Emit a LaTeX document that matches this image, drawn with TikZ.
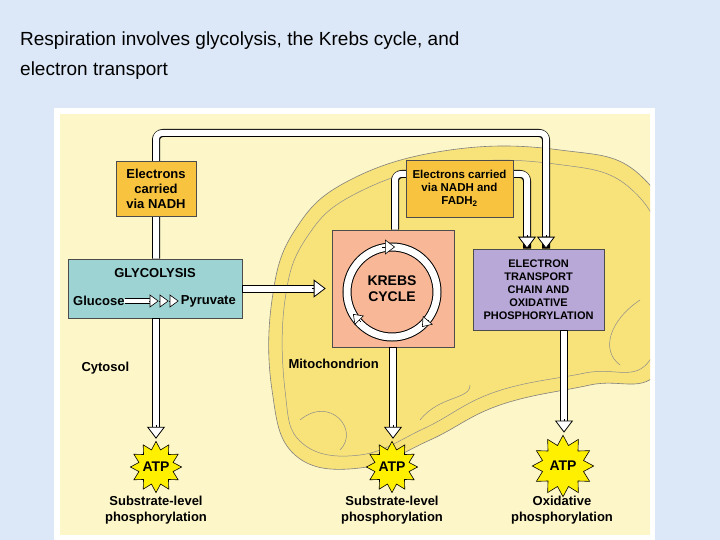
\documentclass[tikz,border=0pt]{standalone}
\usepackage{fontspec}
\setmainfont{Liberation Sans}
\usetikzlibrary{arrows.meta,shapes.geometric}
\definecolor{bgblue}{HTML}{DCE8F8}
\definecolor{cream}{HTML}{FDF6C8}
\definecolor{mito}{HTML}{F8E27A}
\definecolor{orangebox}{HTML}{F8C440}
\definecolor{tealbox}{HTML}{9ED3D3}
\definecolor{salmon}{HTML}{F8B898}
\definecolor{lav}{HTML}{B8A8D8}
\definecolor{atpy}{HTML}{FFF000}
\tikzset{
  box/.style={draw=black!70, line width=0.6pt, font=\bfseries\fontsize{13}{15}\selectfont, align=center, inner sep=0pt},
  hollowout/.style={line width=8pt, black, rounded corners=7pt},
  hollowin/.style={line width=6pt, white, rounded corners=6pt},
  tipped/.style={-{Triangle[length=12pt,width=18pt,line width=0.8pt,fill=white]}},
  atp/.style={star, star points=12, star point ratio=1.45, fill=atpy, draw=black, line width=0.6pt, font=\bfseries\fontsize{14}{15}\selectfont, inner sep=-1pt},
  lbl/.style={font=\bfseries\fontsize{13}{15.5}\selectfont, align=center},
}
\begin{document}
\begin{tikzpicture}[x=1pt,y=-1pt]
\useasboundingbox (0,0) rectangle (720,540);
\fill[bgblue] (0,0) rectangle (720,540);
\node[anchor=north west, align=left, font=\fontsize{19}{30}\selectfont, inner sep=0pt] (title) at (20,32) {Respiration involves glycolysis, the Krebs cycle, and\\electron transport};
\fill[white] (54,108) rectangle (655,540);
\fill[cream] (60,114) rectangle (650,535);
% mitochondrion
\begin{scope}
\clip (60,114) rectangle (650,535);
\draw[fill=mito, draw=black!50, line width=0.6pt] plot[smooth cycle, tension=0.7] coordinates {(272,300) (295,230) (350,180) (450,150) (560,150) (640,175) (680,260) (660,370) (590,385) (500,405) (430,440) (360,468) (295,455) (272,390)};
\draw[draw=black!45, line width=0.5pt] plot[smooth cycle, tension=0.7] coordinates {(285,300) (307,237) (357,193) (450,164) (555,164) (630,188) (665,260) (650,360) (585,373) (495,392) (425,428) (360,455) (302,443) (285,390)};
\draw[black!45, line width=0.5pt] (300,420) .. controls (330,395) and (360,430) .. (340,450);
\draw[black!45, line width=0.5pt] (640,300) .. controls (610,320) and (600,350) .. (620,365);
\draw[black!45, line width=0.5pt] (420,420) .. controls (440,395) and (470,400) .. (470,385);
\end{scope}
% boxes
\node[box, fill=tealbox, minimum width=174pt, minimum height=59pt] (glyc) at (155,288.5) {};
\node[box, fill=salmon, minimum width=122pt, minimum height=117pt] (krebs) at (393,288.5) {};
\node[box, fill=lav, minimum width=131pt, minimum height=81pt, font=\bfseries\fontsize{11}{13}\selectfont] (etc) at (538.5,289.5) {ELECTRON\\TRANSPORT\\CHAIN AND\\OXIDATIVE\\PHOSPHORYLATION};
% ATP
\node[atp] (atp1) at (156,467) {ATP};
\node[atp] (atp2) at (392,467) {ATP};
\node[atp, inner sep=1.5pt] (atp3) at (563,466) {ATP};
\node[lbl] (l1) at (156,510) {Substrate-level\\phosphorylation};
\node[lbl] (l2) at (392,510) {Substrate-level\\phosphorylation};
\node[lbl] (l3) at (562,510) {Oxidative\\phosphorylation};
% coordinates for connectors
\coordinate (c1) at (156,133); \coordinate (c2) at (546,133);
\coordinate (c3) at (395,174); \coordinate (c4) at (527,174);
\draw[hollowout] (glyc.north -| c1) -- (c1) -- (c2) -- (c2 |- etc.north);
\draw[hollowin] (glyc.north -| c1) -- (c1) -- (c2) -- ([yshift=12pt]c2 |- etc.north);
\draw[tipped, line width=0pt] ([yshift=13pt]c2 |- etc.north) -- (c2 |- etc.north);
\draw[hollowout] (krebs.north -| c3) -- (c3) -- (c4) -- (c4 |- etc.north);
\draw[hollowin] (krebs.north -| c3) -- (c3) -- (c4) -- ([yshift=12pt]c4 |- etc.north);
\draw[tipped, line width=0pt] ([yshift=13pt]c4 |- etc.north) -- (c4 |- etc.north);
% boxes on top of loops
\node[box, fill=orangebox, minimum width=80pt, minimum height=55pt] (nadh1) at (156,189) {Electrons\\carried\\via NADH};
\node[box, fill=orangebox, minimum width=107pt, minimum height=57pt, font=\bfseries\fontsize{11.5}{13}\selectfont] (nadh2) at (459.5,188.5) {Electrons carried\\via NADH and\\FADH\textsubscript{2}};
% straight arrows
\foreach \s/\t/\xx in {glyc/atp1/156, krebs/atp2/393, etc/atp3/564}{
  \draw[line width=8pt] (\xx,0 |- \s.south) -- ([yshift=14pt]\xx,0 |- \t.north);
  \draw[line width=6pt, white] ([yshift=-1pt]\xx,0 |- \s.south) -- ([yshift=14pt]\xx,0 |- \t.north);
  \draw[tipped, line width=0pt] ([yshift=15pt]\xx,0 |- \t.north) -- ([yshift=2pt]\xx,0 |- \t.north);
}
\draw[line width=8pt] (glyc.east) -- ([xshift=-18pt]krebs.west |- glyc.east);
\draw[line width=6pt, white] ([xshift=1pt]glyc.east) -- ([xshift=-18pt]krebs.west |- glyc.east);
\draw[tipped, line width=0pt] ([xshift=-19pt]krebs.west |- glyc.east) -- ([xshift=-6pt]krebs.west |- glyc.east);
% glycolysis text
\node[font=\bfseries\fontsize{13}{15}\selectfont] (gt) at (155,273) {GLYCOLYSIS};
\node[font=\bfseries\fontsize{13}{15}\selectfont, anchor=west, inner sep=0pt] (glu) at (73,301) {Glucose};
\node[font=\bfseries\fontsize{13}{15}\selectfont, anchor=east, inner sep=0pt] (pyr) at (236,301) {Pyruvate};
\draw[line width=6pt] (glu.east) -- ([xshift=-28pt]pyr.west);
\draw[line width=4.4pt, white] ([xshift=-0.5pt]glu.east) -- ([xshift=-28pt]pyr.west);
\foreach \d in {-22,-12,-2}{
  \draw[-{Triangle[length=9pt,width=13pt,line width=0.6pt,fill=white]}, line width=0pt] ([xshift=\d-9pt]pyr.west) -- ([xshift=\d pt]pyr.west);
}
% Krebs ring
\draw[line width=9pt] (392,292) circle (45);
\draw[line width=7pt, white] (392,292) circle (45);
\draw[-{Triangle[length=10pt,width=15pt,line width=0.6pt,fill=white]}, line width=0pt] (382,247) -- (395,247);
\draw[-{Triangle[length=9pt,width=13pt,line width=0.6pt,fill=white]}, line width=0pt] (428,320) -- (422,327);
\draw[-{Triangle[length=9pt,width=13pt,line width=0.6pt,fill=white]}, line width=0pt] (360,321) -- (353,314);
\node[font=\bfseries\fontsize{14}{16}\selectfont, align=center] (kt) at (392,289) {KREBS\\CYCLE};
% labels
\node[lbl, anchor=west] (cyt) at (78,368) {Cytosol};
\node[lbl, anchor=west] (mit) at (285,364) {Mitochondrion};
\end{tikzpicture}
\end{document}
